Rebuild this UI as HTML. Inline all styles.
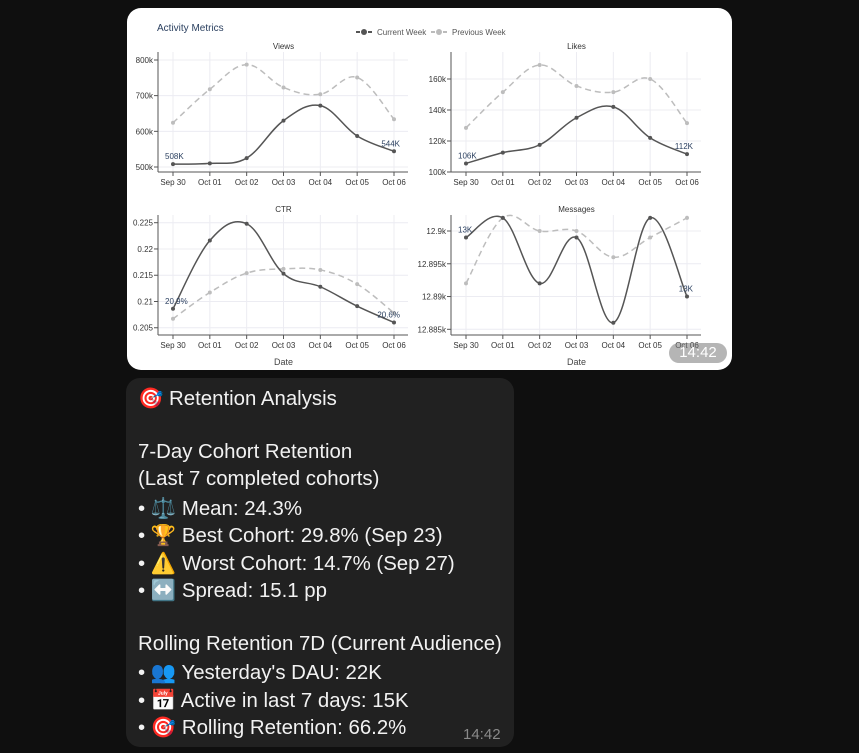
<!DOCTYPE html>
<html><head><meta charset="utf-8">
<style>
html,body{margin:0;padding:0;width:859px;height:753px;overflow:hidden;background:#0f0f0f;font-family:"Liberation Sans","DejaVu Sans",sans-serif}
#card{position:absolute;left:127px;top:8px;width:605px;height:362px;background:#fff;border-radius:14px;overflow:hidden}
#bubble{position:absolute;left:126px;top:378px;width:388px;height:369px;background:#212121;border-radius:14px;color:#f2f2f2;font-size:20.4px}
#bubble .l{position:absolute;left:12px;white-space:nowrap}
.t{position:absolute;font-size:15px;color:#8a8a8a}
</style></head><body>
<div id="card">
<svg id="svg" width="605" height="362"></svg>
<div style="position:absolute;left:542px;top:335px;width:58px;height:20px;border-radius:10px;background:rgba(120,120,120,0.55);color:#fff;font-size:15px;text-align:center;line-height:20px">14:42</div>
</div>
<div id="bubble">
<div class="l" style="top:8px">🎯 Retention Analysis</div>
<div class="l" style="top:63px">7-Day Cohort Retention</div>
<div class="l" style="top:90px">(Last 7 completed cohorts)</div>
<div class="l" style="top:118px">• ⚖️ Mean: 24.3%</div>
<div class="l" style="top:145px">• 🏆 Best Cohort: 29.8% (Sep 23)</div>
<div class="l" style="top:173px">• ⚠️ Worst Cohort: 14.7% (Sep 27)</div>
<div class="l" style="top:200px">• ↔️ Spread: 15.1 pp</div>
<div class="l" style="top:255px">Rolling Retention 7D (Current Audience)</div>
<div class="l" style="top:282px">• 👥 Yesterday's DAU: 22K</div>
<div class="l" style="top:310px">• 📅 Active in last 7 days: 15K</div>
<div class="l" style="top:337px">• 🎯 Rolling Retention: 66.2%</div>
<div class="t" style="left:337px;top:348px">14:42</div>
</div>
<script>
const dates=["Sep 30","Oct 01","Oct 02","Oct 03","Oct 04","Oct 05","Oct 06"];
const viewsCur=[508,510,525,630,672,587,544];
const viewsPrev=[624,718,787,723,704,751,634];
const likesCur=[105.5,112.5,117.5,135,142,122,111.5];
const likesPrev=[128.5,151.5,169,155.5,151.5,160,131.5];
const ctrCur=[0.2086,0.2216,0.2248,0.2153,0.2128,0.2091,0.2060];
const ctrPrev=[0.2067,0.2117,0.2154,0.2162,0.2160,0.2133,0.2078];
const msgCur=[12899,12902,12892,12899,12886,12902,12890];
const msgPrev=[12892,12902,12900,12900,12896,12899,12902];
const viewsTicks=[500,600,700,800], viewsTickLabels=["500k","600k","700k","800k"];
const likesTicks=[100,120,140,160], likesTickLabels=["100k","120k","140k","160k"];
const ctrTicks=[0.205,0.21,0.215,0.22,0.225], ctrTickLabels=["0.205","0.21","0.215","0.22","0.225"];
const msgTicks=[12885,12890,12895,12900], msgTickLabels=["12.885k","12.89k","12.895k","12.9k"];
const NS="http://www.w3.org/2000/svg";
const svg=document.getElementById('svg');
function el(tag,attrs,parent){const e=document.createElementNS(NS,tag);for(const k in attrs)e.setAttribute(k,attrs[k]);(parent||svg).appendChild(e);return e;}
function txt(x,y,s,size,fill,anchor){const t=el('text',{x:x,y:y,'font-size':size,fill:fill,'text-anchor':anchor||'middle','font-family':'Liberation Sans, sans-serif'});t.textContent=s;return t;}
function spline(pts){let d=`M${pts[0][0]},${pts[0][1]}`;for(let i=0;i<pts.length-1;i++){const p0=pts[i-1]||pts[i],p1=pts[i],p2=pts[i+1],p3=pts[i+2]||p2;const k=0.18;d+=` C${p1[0]+(p2[0]-p0[0])*k},${p1[1]+(p2[1]-p0[1])*k} ${p2[0]-(p3[0]-p1[0])*k},${p2[1]-(p3[1]-p1[1])*k} ${p2[0]},${p2[1]}`;}return d;}
function panel(o){
  const g=el('g',{});
  
  
  const xs=i=>o.x0+(o.x1-o.x0)*i/(dates.length-1);
  const ys=v=>o.yA+(v-o.vA)*(o.yB-o.yA)/(o.vB-o.vA);
  o.ticks.forEach((v,i)=>{el('line',{x1:o.axisX,x2:o.x1+14,y1:ys(v),y2:ys(v),stroke:'#ececf2','stroke-width':1},g);
    el('line',{x1:o.axisX-4,x2:o.axisX,y1:ys(v),y2:ys(v),stroke:'#555','stroke-width':1},g);
    const t=txt(o.axisX-5,ys(v)+3,o.tickLabels[i],8,'#333','end');g.appendChild(t);});
  dates.forEach((d,i)=>{el('line',{x1:xs(i),x2:xs(i),y1:o.top,y2:o.bottom,stroke:'#ececf2'},g);
    el('line',{x1:xs(i),x2:xs(i),y1:o.bottom,y2:o.bottom+4,stroke:'#555'},g);
    const t=txt(xs(i),o.bottom+13,d,8,'#333');g.appendChild(t);});
  el('line',{x1:o.axisX,x2:o.axisX,y1:o.top,y2:o.bottom,stroke:'#555'},g);
  el('line',{x1:o.axisX,x2:o.x1+14,y1:o.bottom,y2:o.bottom,stroke:'#555'},g);
  g.appendChild(txt((o.x0+o.x1)/2,o.top-3,o.title,8,'#333'));
  if(o.date) g.appendChild(txt((o.x0+o.x1)/2,o.bottom+30,'Date',9,'#444'));
  const prevPts=o.prev.map((v,i)=>[xs(i),ys(v)]), curPts=o.cur.map((v,i)=>[xs(i),ys(v)]);
  const pp=el('path',{d:spline(prevPts),fill:'none',stroke:'#bdbdbd','stroke-width':1.5,'stroke-dasharray':'6,4'},g);
  
  
  prevPts.forEach(p=>el('circle',{cx:p[0],cy:p[1],r:2,fill:'#bdbdbd'},g));
  const cp=el('path',{d:spline(curPts),fill:'none',stroke:'#555','stroke-width':1.5},g);
  
  
  curPts.forEach(p=>el('circle',{cx:p[0],cy:p[1],r:2,fill:'#555'},g));
  g.appendChild(txt(curPts[0][0]-8,curPts[0][1]-5,o.l0,8,'#2a3f5f','start'));
  g.appendChild(txt(curPts[6][0]+6,curPts[6][1]-5,o.l6,8,'#2a3f5f','end'));
}
txt(30,23,'Activity Metrics',10,'#2a3f5f','start');
el('line',{x1:229,x2:246,y1:24,y2:24,stroke:'#555','stroke-width':2,'stroke-dasharray':'4,2'});el('circle',{cx:237,cy:24,r:3,fill:'#555'});
txt(250,27,'Current Week',8,'#555','start');
el('line',{x1:304,x2:321,y1:24,y2:24,stroke:'#bbb','stroke-width':2,'stroke-dasharray':'4,2'});el('circle',{cx:312,cy:24,r:3,fill:'#bbb'});
txt(325,27,'Previous Week',8,'#555','start');
panel({name:'views',title:'Views',x0:46,x1:267,axisX:31,top:44,bottom:164,yA:159,vA:500,yB:52,vB:800,ticks:viewsTicks,tickLabels:viewsTickLabels,cur:viewsCur,prev:viewsPrev,l0:'508K',l6:'544K'});
panel({name:'likes',title:'Likes',x0:339,x1:560,axisX:324,top:44,bottom:164,yA:164,vA:100,yB:71,vB:160,ticks:likesTicks,tickLabels:likesTickLabels,cur:likesCur,prev:likesPrev,l0:'106K',l6:'112K'});
panel({name:'ctr',title:'CTR',x0:46,x1:267,axisX:31,top:207,bottom:327,yA:319.7,vA:0.205,yB:214.7,vB:0.225,ticks:ctrTicks,tickLabels:ctrTickLabels,cur:ctrCur,prev:ctrPrev,l0:'20.9%',l6:'20.6%',date:true});
panel({name:'messages',title:'Messages',x0:339,x1:560,axisX:324,top:207,bottom:327,yA:223,vA:12900,yB:321.3,vB:12885,ticks:msgTicks,tickLabels:msgTickLabels,cur:msgCur,prev:msgPrev,l0:'13K',l6:'13K',date:true});
</script>
</body></html>
